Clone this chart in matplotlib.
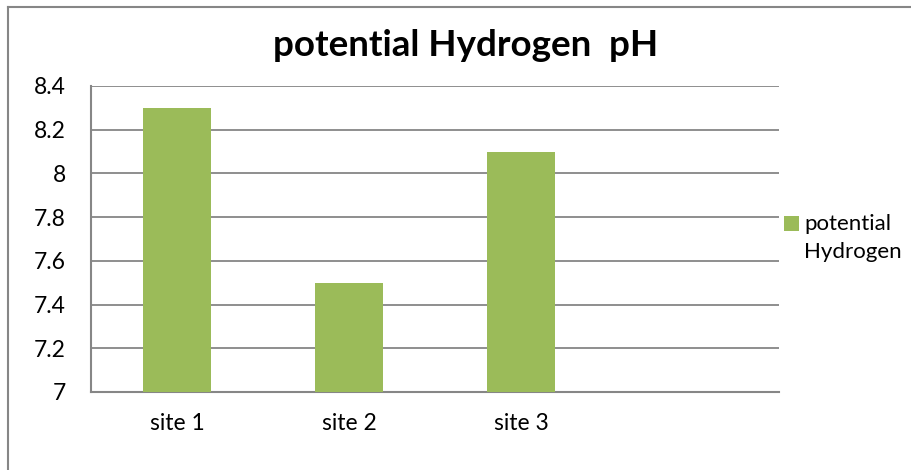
import matplotlib
matplotlib.use("Agg")
import matplotlib.pyplot as plt
from matplotlib.lines import Line2D
from matplotlib.patches import Rectangle

categories = ["site 1", "site 2", "site 3", ""]
ph_values = [8.3, 7.5, 8.1, None]
y_ticks = [7, 7.2, 7.4, 7.6, 7.8, 8, 8.2, 8.4]
y_tick_labels = ["7", "7.2", "7.4", "7.6", "7.8", "8", "8.2", "8.4"]
series_name = "potential\nHydrogen"
title = "potential Hydrogen  pH"

bar_color = "#9BBB59"
grid_color = "#868686"

plt.rcParams['font.family'] = ['Lato', 'DejaVu Sans']

W, H = 911, 470
fig = plt.figure(figsize=(W / 100, H / 100), dpi=100)
ax = fig.add_axes([91 / W, 1 - 392 / H, (779 - 91) / W, (392 - 86) / H])

xs = [i for i, v in enumerate(ph_values) if v is not None]
vals = [v for v in ph_values if v is not None]
ax.bar(xs, vals, width=0.4, color=bar_color, zorder=3)

ax.set_xlim(-0.5, len(categories) - 0.5)
ax.set_ylim(7, 8.4)
ax.set_yticks(y_ticks)
ax.set_yticklabels(y_tick_labels)
ax.set_xticks(range(len(categories)))
ax.set_xticklabels(categories)
ax.yaxis.grid(True, color=grid_color, linewidth=1.3, zorder=0)
ax.tick_params(axis='both', length=0, labelsize=16.5, colors='black')
ax.tick_params(axis='x', pad=15)
ax.tick_params(axis='y', pad=18)
for s in ['top', 'right']:
    ax.spines[s].set_visible(False)
for s in ['left', 'bottom']:
    ax.spines[s].set_color(grid_color)
    ax.spines[s].set_linewidth(1.5)

fig.text(466 / W, 1 - 45 / H, title, ha='center', va='center',
         fontsize=26.5, fontweight='bold')

# legend: square key next to the first line of the label
fig.add_artist(Rectangle((784 / W, 1 - 231 / H), 15 / W, 15 / H,
                         transform=fig.transFigure, facecolor=bar_color,
                         edgecolor='none'))
fig.text(804 / W, 1 - 238 / H, series_name, ha='left', va='center',
         fontsize=16, linespacing=1.45)

# outer chart border (only left and top are inside the picture)
fig.add_artist(Line2D([8 / W, 8 / W], [0, 1 - 7 / H], transform=fig.transFigure,
                      color=grid_color, linewidth=1.5))
fig.add_artist(Line2D([8 / W, 1], [1 - 7 / H, 1 - 7 / H], transform=fig.transFigure,
                      color=grid_color, linewidth=1.5))

fig.savefig("out.png", dpi=100)
